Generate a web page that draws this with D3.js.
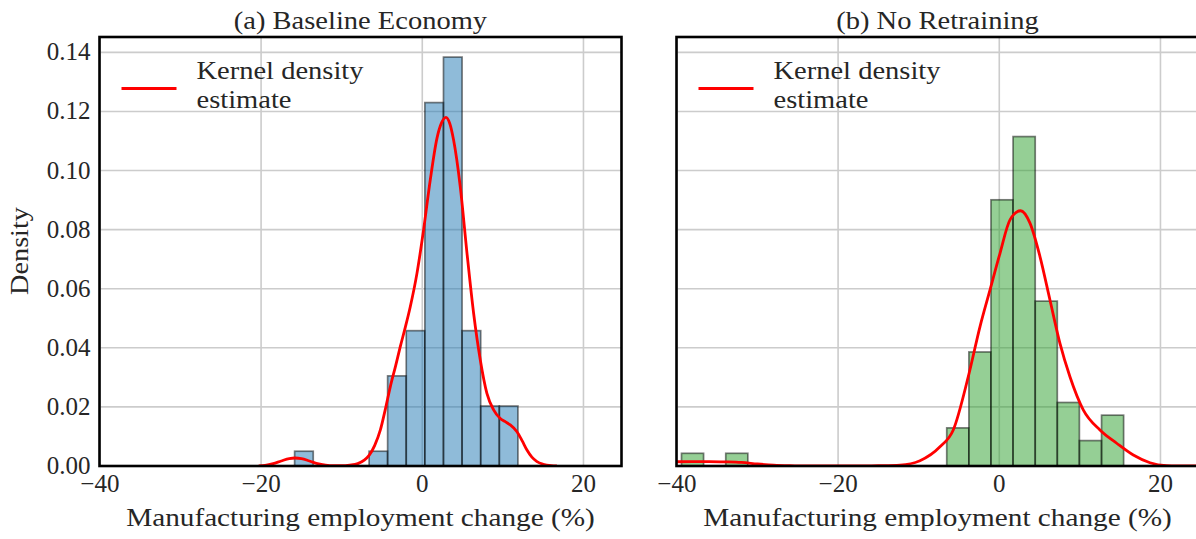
<!DOCTYPE html>
<html><head><meta charset="utf-8">
<script src="https://cdn.jsdelivr.net/npm/d3@7"></script>
<style>body{margin:0;background:#fff} text{font-family:"Liberation Serif","Times New Roman",serif;fill:#262626}</style>
</head><body><svg id="chart" width="1196" height="539"></svg>
<script>
const panelTitles = ["(a) Baseline Economy", "(b) No Retraining"];
const xTicks = [-40, -20, 0, 20];
const yTicks = [0, 0.02, 0.04, 0.06, 0.08, 0.10, 0.12, 0.14];
const xLabel = "Manufacturing employment change (%)";
const yLabel = "Density";
const legendLabel = ["Kernel density", "estimate"];

const baselineEdges = [-15.84, -13.53, -11.22, -8.91, -6.60, -4.30, -1.99, 0.32, 2.63, 4.94, 7.25, 9.56, 11.87];
const baselineDensity = [0.0050, 0, 0, 0, 0.0050, 0.0305, 0.0458, 0.1230, 0.1384, 0.0458, 0.0203, 0.0203];
const baselineKde = [[-20.3,0],[-19.5,0.0002],[-18.5,0.0008],[-17.5,0.0017],[-16.5,0.0025],[-15.8,0.0027],[-15,0.0025],[-14,0.0017],[-13,0.0008],[-12,0.0003],[-11,0.0001],[-10,0.0001],[-9,0.0003],[-8,0.0008],[-7.2,0.0020],[-6.6,0.0036],[-5.9,0.0070],[-5.2,0.0122],[-4.6,0.0190],[-3.97,0.0268],[-3.3,0.0340],[-2.73,0.0404],[-2.1,0.0470],[-1.49,0.0539],[-0.66,0.0652],[0.16,0.0799],[0.99,0.0968],[1.82,0.1109],[2.4,0.1162],[2.94,0.1180],[3.4,0.1160],[3.88,0.1104],[4.71,0.0946],[5.55,0.0720],[6.37,0.0517],[7.2,0.0359],[8.02,0.0246],[8.85,0.0190],[9.68,0.0161],[10.3,0.0150],[10.92,0.0139],[11.75,0.0116],[12.4,0.0085],[12.99,0.0054],[13.6,0.0030],[14.23,0.0015],[15,0.0006],[16,0.0001],[16.7,0]];

const noRetrainEdges = [-39.43, -36.69, -33.94, -31.20, -28.46, -25.72, -22.97, -20.23, -17.49, -14.74, -12.00, -9.26, -6.52, -3.77, -1.03, 1.71, 4.46, 7.20, 9.94, 12.69, 15.43];
const noRetrainDensity = [0.0043, 0, 0.0043, 0, 0, 0, 0, 0, 0, 0, 0, 0, 0.0129, 0.0386, 0.0901, 0.1115, 0.0558, 0.0215, 0.0086, 0.0172];
const noRetrainKde = [[-41,0.0014],[-38,0.0015],[-36,0.0015],[-34,0.0014],[-32,0.0012],[-30,0.0007],[-28,0.0003],[-26,0.0001],[-24,0],[-18,0],[-15,0.0001],[-12.32,0.0003],[-9.84,0.0018],[-7.36,0.0065],[-5.71,0.0122],[-3.85,0.0302],[-2.39,0.0472],[-1.15,0.0596],[0.09,0.0720],[1.33,0.0833],[2.65,0.0864],[3.81,0.0822],[5.05,0.0709],[6.29,0.0562],[7.53,0.0415],[8.77,0.0302],[10.42,0.0190],[12.49,0.0122],[14.57,0.0077],[16.63,0.0037],[18.70,0.0011],[20.77,0.0001],[22,0],[26,0]];

const panels = [
  {title: panelTitles[0], edges: baselineEdges, dens: baselineDensity, kde: baselineKde, color: "#1f77b4", left: 99.5, showY: true},
  {title: panelTitles[1], edges: noRetrainEdges, dens: noRetrainDensity, kde: noRetrainKde, color: "#2ca02c", left: 676.5, showY: false}
];
const W = 522, plotTop = 37, plotBottom = 466;
const svg = d3.select("#chart");
const stretch = 1.14;
function widen(sel, f) {
  sel.each(function(){ const n = this; const L = n.getComputedTextLength(); n.setAttribute("textLength", L * f); n.setAttribute("lengthAdjust", "spacingAndGlyphs"); });
}

panels.forEach((p, i) => {
  const x = d3.scaleLinear().domain([-40.05, 24.72]).range([p.left, p.left + W]);
  const y = d3.scaleLinear().domain([0, 0.1452]).range([plotBottom, plotTop]);
  const g = svg.append("g");
  const cid = "clip" + i;
  svg.append("clipPath").attr("id", cid).append("rect").attr("x", p.left).attr("y", plotTop).attr("width", W).attr("height", plotBottom - plotTop);

  g.append("g").selectAll("line").data(xTicks).join("line")
    .attr("x1", d => x(d)).attr("x2", d => x(d)).attr("y1", plotTop).attr("y2", plotBottom)
    .attr("stroke", "#cccccc").attr("stroke-width", 1.6);
  g.append("g").selectAll("line").data(yTicks).join("line")
    .attr("x1", p.left).attr("x2", p.left + W).attr("y1", d => y(d)).attr("y2", d => y(d))
    .attr("stroke", "#cccccc").attr("stroke-width", 1.6);

  const bins = p.dens.map((d, k) => ({x0: p.edges[k], x1: p.edges[k + 1], d})).filter(b => b.d > 0);
  g.append("g").attr("clip-path", `url(#${cid})`).selectAll("rect").data(bins).join("rect")
    .attr("x", b => x(b.x0)).attr("width", b => x(b.x1) - x(b.x0))
    .attr("y", b => y(b.d)).attr("height", b => y(0) - y(b.d))
    .attr("fill", p.color).attr("fill-opacity", 0.5)
    .attr("stroke", "#000").attr("stroke-opacity", 0.5).attr("stroke-width", 1.7);

  const line = d3.line().x(d => x(d[0])).y(d => y(d[1])).curve(d3.curveMonotoneX);
  g.append("path").attr("clip-path", `url(#${cid})`).datum(p.kde).attr("d", line)
    .attr("fill", "none").attr("stroke", "#ff0000").attr("stroke-width", 2.8).attr("stroke-linejoin", "round");

  g.append("rect").attr("x", p.left).attr("y", plotTop).attr("width", W).attr("height", plotBottom - plotTop)
    .attr("fill", "none").attr("stroke", "#000").attr("stroke-width", 2.6);

  g.append("g").selectAll("text").data(xTicks).join("text")
    .attr("x", d => x(d)).attr("y", 492).attr("text-anchor", "middle").attr("font-size", 25)
    .text(d => d3.format("d")(d));
  if (p.showY) {
    g.append("g").selectAll("text").data(yTicks).join("text")
      .attr("x", p.left - 9).attr("y", d => y(d)).attr("dy", "0.32em").attr("text-anchor", "end").attr("font-size", 25)
      .text(d => d3.format(".2f")(d));
    svg.append("text").attr("transform", `translate(28,251) rotate(-90)`).attr("text-anchor", "middle")
      .attr("font-size", 25).text(yLabel).call(widen, 1.13);
  }
  g.append("text").attr("x", p.left + W / 2).attr("y", 29).attr("text-anchor", "middle").attr("font-size", 25)
    .text(p.title).call(widen, stretch);
  g.append("text").attr("x", p.left + W / 2).attr("y", 526).attr("text-anchor", "middle").attr("font-size", 25)
    .text(xLabel).call(widen, 1.17);
  g.append("line").attr("x1", p.left + 22).attr("x2", p.left + 77).attr("y1", 88.5).attr("y2", 88.5)
    .attr("stroke", "#ff0000").attr("stroke-width", 2.8);
  g.append("g").selectAll("text").data(legendLabel).join("text")
    .attr("x", p.left + 97).attr("y", (d, k) => 79 + k * 29).attr("font-size", 25)
    .text(d => d).call(widen, stretch);
});
</script></body></html>
